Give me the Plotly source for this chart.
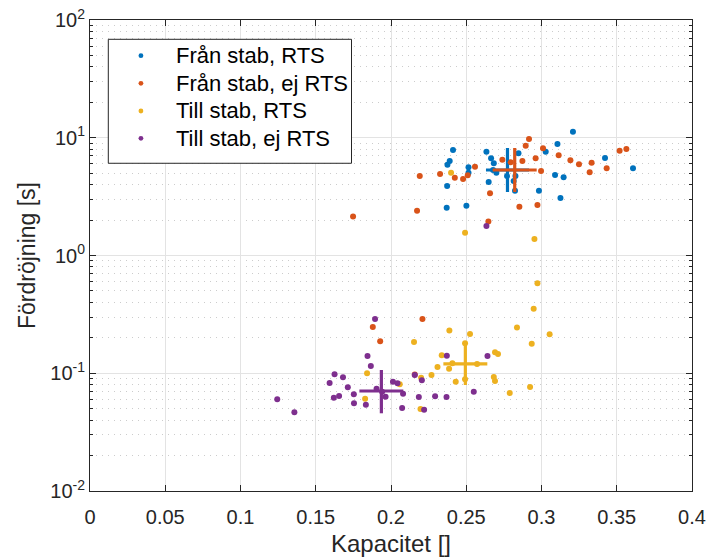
import plotly.graph_objects as go

# ---- data ----
fran_rts_x = [0.2412, 0.2390, 0.2375, 0.2515, 0.2515, 0.2634, 0.2665, 0.2683, 0.2678, 0.2700,
              0.2771, 0.2827, 0.2815, 0.2847, 0.2649, 0.2373, 0.2370, 0.2501, 0.2824, 0.2983,
              0.3209, 0.3106, 0.3028, 0.3422, 0.3608, 0.3090, 0.3147, 0.3126]
fran_rts_y = [7.87, 6.35, 5.91, 5.61, 5.05, 7.61, 6.69, 6.07, 5.32, 5.05,
              4.73, 4.73, 4.29, 7.38, 4.21, 3.89, 2.55, 2.65, 3.55, 3.55,
              11.25, 8.85, 7.61, 6.73, 5.50, 4.83, 4.61, 3.08]

fran_ej_x = [0.2191, 0.2326, 0.2424, 0.2479, 0.2510, 0.2558, 0.2740, 0.2795, 0.2873, 0.2895,
             0.2917, 0.2961, 0.2658, 0.2853, 0.2973, 0.2173, 0.2647, 0.3010, 0.3114, 0.3192,
             0.3249, 0.3333, 0.3320, 0.3433, 0.3519, 0.3564, 0.2997, 0.1748, 0.1879, 0.1928,
             0.2209, 0.2158]
fran_ej_y = [4.73, 4.92, 4.58, 4.46, 4.80, 5.68, 6.51, 6.18, 6.35, 8.56,
             9.76, 6.69, 3.38, 2.60, 2.68, 2.40, 1.94, 8.13, 7.09, 6.43,
             5.95, 6.14, 5.09, 5.50, 7.76, 8.02, 5.22, 2.14, 0.247, 0.187,
             0.289, 0.0976]

till_rts_x = [0.2399, 0.2492, 0.2953, 0.2973, 0.2948, 0.2388, 0.2525, 0.2837, 0.3054, 0.2153,
              0.2935, 0.2492, 0.2337, 0.2691, 0.2711, 0.2309, 0.2386, 0.2408, 0.2572, 0.2269,
              0.2200, 0.2430, 0.2492, 0.2683, 0.2691, 0.2924, 0.2789, 0.2058, 0.2196, 0.1841,
              0.1828]
till_rts_y = [5.05, 1.56, 1.38, 0.580, 0.353, 0.231, 0.215, 0.245, 0.214, 0.184,
              0.178, 0.180, 0.142, 0.151, 0.146, 0.113, 0.109, 0.1215, 0.120, 0.0966,
              0.0916, 0.0847, 0.0888, 0.0929, 0.0859, 0.0764, 0.0679, 0.0805, 0.0497, 0.0999,
              0.0608]

till_ej_x = [0.2634, 0.1894, 0.1844, 0.1866, 0.1625, 0.1681, 0.1592, 0.1713, 0.1753, 0.1620,
             0.1655, 0.1244, 0.1358, 0.1754, 0.1833, 0.1904, 0.1941, 0.1964, 0.2013, 0.2043,
             0.2080, 0.2074, 0.2158, 0.2205, 0.2185, 0.2293, 0.2369, 0.2220, 0.2371, 0.2641,
             0.2550]
till_ej_y = [1.78, 0.289, 0.140, 0.115, 0.0979, 0.0925, 0.0826, 0.0760, 0.0664, 0.0620,
             0.0641, 0.0601, 0.0467, 0.0555, 0.0539, 0.0738, 0.0697, 0.0632, 0.0847, 0.0823,
             0.0671, 0.0507, 0.0966, 0.0871, 0.0628, 0.0637, 0.0628, 0.0490, 0.141, 0.140,
             0.0697]

# group means and spreads (cross markers)
names = ["Från stab, RTS", "Från stab, ej RTS", "Till stab, RTS", "Till stab, ej RTS"]
colors = ["#0072BD", "#D95319", "#EDB120", "#7E2F8E"]
mean_x = [0.2774, 0.2822, 0.2494, 0.1936]
mean_y = [5.32, 5.32, 0.1199, 0.0707]
err_x = [0.0143, 0.0146, 0.0146, 0.0146]
err_y_plus = [2.86, 2.86, 0.0654, 0.0359]
err_y_minus = [1.86, 1.86, 0.0404, 0.0250]

xtick_vals = [0, 0.05, 0.1, 0.15, 0.2, 0.25, 0.3, 0.35, 0.4]
xtick_text = ["0", "0.05", "0.1", "0.15", "0.2", "0.25", "0.3", "0.35", "0.4"]
ytick_vals = [0.01, 0.1, 1, 10, 100]
ytick_text = ["10<sup>-2</sup>", "10<sup>-1</sup>", "10<sup>0</sup>", "10<sup>1</sup>", "10<sup>2</sup>"]
yminor_vals = [m * 10.0 ** e for e in range(-2, 2) for m in range(2, 10)]

series = [(fran_rts_x, fran_rts_y), (fran_ej_x, fran_ej_y),
          (till_rts_x, till_rts_y), (till_ej_x, till_ej_y)]

FONT = "Liberation Sans, Arial, Helvetica, sans-serif"
AX = "#262626"

fig = go.Figure()
for i, (xs, ys) in enumerate(series):
    fig.add_trace(go.Scatter(
        x=xs, y=ys, mode="markers", name=names[i], showlegend=False,
        marker=dict(color=colors[i], size=6, line=dict(width=0)),
    ))
    fig.add_trace(go.Scatter(
        x=[mean_x[i]], y=[mean_y[i]], mode="markers", showlegend=False,
        marker=dict(color=colors[i], size=1),
        error_x=dict(type="data", array=[err_x[i]], color=colors[i], thickness=3.2, width=0),
        error_y=dict(type="data", array=[err_y_plus[i]], arrayminus=[err_y_minus[i]],
                     symmetric=False, color=colors[i], thickness=3.2, width=0),
        hoverinfo="skip",
    ))

# legend (drawn as box + dots + text, to match the reference row spacing)
leg_box = dict(x0=0.0304, x1=0.4344, y0=0.6958, y1=0.9590)
leg_rows = [0.9242, 0.8656, 0.8068, 0.7488]
leg_dot_x = 0.0846
leg_text_x = 0.1394

shapes = [dict(type="rect", xref="paper", yref="paper", layer="above",
               line=dict(color=AX, width=1), fillcolor="white", **leg_box)]
annotations = []
for i, yy in enumerate(leg_rows):
    shapes.append(dict(type="circle", xref="paper", yref="paper", layer="above",
                       xsizemode="pixel", ysizemode="pixel", xanchor=leg_dot_x, yanchor=yy,
                       x0=-2.4, x1=2.4, y0=-2.4, y1=2.4,
                       fillcolor=colors[i], line=dict(width=0)))
    annotations.append(dict(text=names[i], xref="paper", yref="paper", x=leg_text_x, y=yy,
                            xanchor="left", yanchor="middle", showarrow=False,
                            font=dict(family=FONT, size=22, color="black")))

fig.update_layout(
    width=710, height=559,
    margin=dict(l=90, r=17.5, t=20, b=68, pad=0),
    paper_bgcolor="white", plot_bgcolor="white",
    font=dict(family=FONT, color=AX, size=20),
    showlegend=False,
    shapes=shapes, annotations=annotations,
)

fig.update_xaxes(
    range=[0, 0.4], tickvals=xtick_vals, ticktext=xtick_text,
    showline=True, linecolor=AX, linewidth=1, mirror="ticks",
    ticks="inside", ticklen=6, tickcolor=AX, tickwidth=1,
    showgrid=True, gridcolor="#e3e3e3", gridwidth=1, zeroline=False,
    tickfont=dict(size=20, color=AX), automargin=False, ticklabelstandoff=8,
    title=dict(text="Kapacitet []", font=dict(size=24, color=AX), standoff=8),
)
fig.update_yaxes(
    type="log", range=[-2, 2], tickvals=ytick_vals, ticktext=ytick_text,
    showline=True, linecolor=AX, linewidth=1, mirror="ticks",
    ticks="inside", ticklen=6, tickcolor=AX, tickwidth=1,
    showgrid=True, gridcolor="#e3e3e3", gridwidth=1, zeroline=False,
    tickfont=dict(size=20, color=AX), automargin=False,
    minor=dict(tickvals=yminor_vals, ticks="inside", ticklen=3, tickcolor=AX,
               showgrid=True, gridcolor="#cccccc", griddash="1px,5px", gridwidth=1),
    title=dict(text="Fördröjning [s]", font=dict(size=23, color=AX), standoff=8),
)

fig.write_html("out.html")
